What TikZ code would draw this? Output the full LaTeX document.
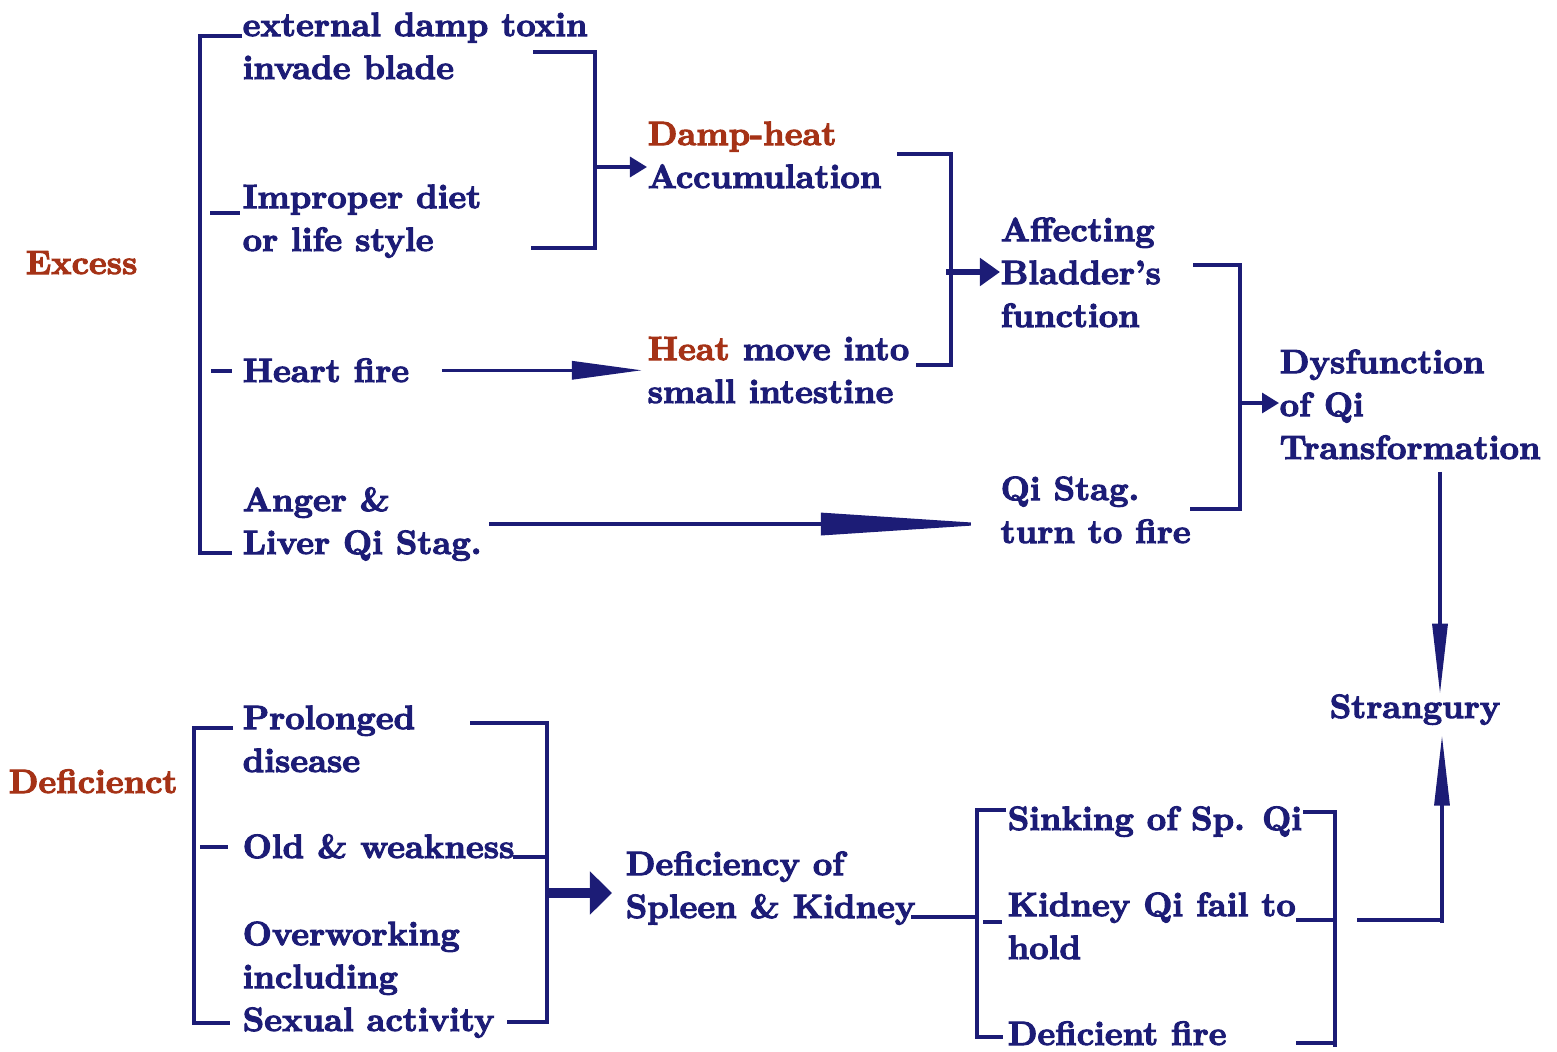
\documentclass[tikz,border=0pt]{standalone}
\usepackage{fontspec}
\setmainfont{Latin Modern Roman}[BoldFeatures={FakeBold=3}]
\usetikzlibrary{arrows.meta}
\definecolor{navy}{RGB}{28,28,118}
\definecolor{rust}{RGB}{165,50,22}

\begin{document}
\begin{tikzpicture}[
        x=0.01cm, y=-0.01cm,
        every node/.style={anchor=base west, inner sep=0pt, align=left, text=navy,
            font=\fontsize{9.6}{12.2}\selectfont\bfseries},
        heading/.style={text=rust},
        link/.style={draw=navy, line width=0.9pt},
        short tip/.style={link, -{Triangle[length=0.17cm, width=0.2cm]}},
        bold tip/.style={link, line width=1.5pt, -{Triangle[length=0.2cm, width=0.27cm]}},
        slim tip/.style={link, -{Triangle[length=0.7cm, width=0.18cm]}},
        long tip/.style={link, -{Triangle[length=1.75cm, width=0.22cm]}},
        drop tip/.style={link, -{Triangle[length=0.7cm, width=0.15cm]}},
        big tip/.style={link, line width=2.6pt, -{Triangle[length=0.22cm, width=0.42cm]}}
    ]
    \useasboundingbox (0,0) rectangle (1557,1051);

    % excess side (nodes sit on the baseline of their last line)
    \node[heading] (excess) at (25,274) {Excess};
    \node (toxin) at (242,79) {external damp toxin\\invade blade};
    \node (diet) at (242,251) {Improper diet\\or life style};
    \node (heart) at (242,382) {Heart fire};
    \node (anger) at (242,554) {Anger \&\\Liver Qi Stag.};
    \node (damp) at (647,188) {\textcolor{rust}{Damp-heat}\\Accumulation};
    \node (heat) at (647,403) {\textcolor{rust}{Heat} move into\\small intestine};
    \node (bladder) at (1000,327) {Affecting\\Bladder’s\\function};
    \node (stag) at (1000,543) {Qi Stag.\\turn to fire};
    \node (dysf) at (1279,459) {Dysfunction\\of Qi\\Transformation};
    \node (strang) at (1329,718) {Strangury};

    % deficient side
    \node[heading] (deficient) at (8,793) {Deficienct};
    \node (prolong) at (242,772) {Prolonged\\disease};
    \node (old) at (242,858) {Old \& weakness};
    \node (overwork) at (242,1031) {Overworking\\including\\Sexual activity};
    \node (spleen) at (625,918) {Deficiency of\\Spleen \& Kidney};
    \node (sinking) at (1007,830) {Sinking of Sp. Qi};
    \node (kidqi) at (1007,959) {Kidney Qi fail to\\hold};
    \node (fire) at (1007,1045) {Deficient fire};

    \coordinate (damp in) at (595,167);
    \coordinate (bladder in) at (946,272);
    \coordinate (dysf in) at (1240,403);
    \coordinate (spleen in) at (547,893);
    \coordinate (def link) at (977,917);
    \coordinate (up foot) at (1442,923);
    \coordinate (drop x) at (1440,0);

    % brackets
    \draw[link] (242,36) -- (200,36) -- (200,553) -- (232,553);
    \draw[link] (210,213) -- (240,213);
    \draw[link] (211,371) -- (232,371);
    \draw[link] (533,52) -- (595,52) -- (595,248) -- (531,248);
    \draw[link] (897,154) -- (951,154) -- (951,365) -- (916,365);
    \draw[link] (1193,265) -- (1240,265) -- (1240,509) -- (1190,509);
    \draw[link] (233,728) -- (194,728) -- (194,1023) -- (230,1023);
    \draw[link] (200,847) -- (228,847);
    \draw[link] (470,723) -- (547,723) -- (547,1022) -- (507,1022);
    \draw[link] (513,857) -- (547,857);
    \draw[link] (1006,810) -- (977,810) -- (977,1037) -- (1003,1037);
    \draw[link] (983,922) -- (1002,922);
    \draw[link] (1303,812) -- (1335,812) -- (1335,1047);
    \draw[link] (1296,920) -- (1335,920);
    \draw[link] (1296,1043) -- (1335,1043);
    \draw[link] (1357,920) -- (1440,920);

    % arrows
    \draw[short tip] (damp in) -- (damp.west |- damp in);
    \draw[slim tip] ([xshift=0.32cm]heart.east) -- ([xshift=-0.05cm]heat.west |- heart.east);
    \draw[long tip, shorten >=0.04cm] ([xshift=0.07cm]anger.east) -- (stag.west |- anger.east);
    \draw[bold tip] (bladder in) -- (bladder.west |- bladder in);
    \draw[short tip] (dysf in) -- (dysf.west |- dysf in);
    \draw[drop tip] ([yshift=-0.12cm]dysf.south -| drop x) -- (strang.north -| drop x);
    \draw[drop tip, shorten >=0.1cm] (up foot) -- (strang.south -| up foot);
    \draw[big tip, shorten >=0.13cm] (spleen in) -- (spleen.west |- spleen in);
    \draw[link] ([xshift=-0.05cm]spleen.east |- def link) -- (def link);
\end{tikzpicture}
\end{document}
